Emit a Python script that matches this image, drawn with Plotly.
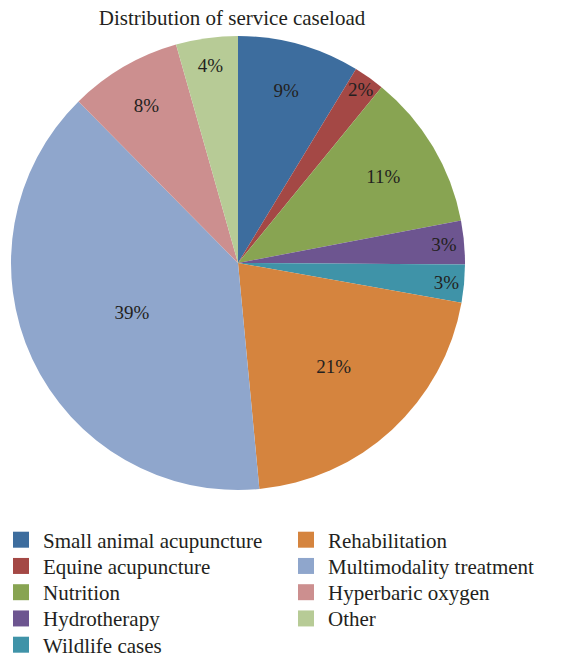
import plotly.graph_objects as go

title = "Distribution of service caseload"
labels = ["Small animal acupuncture", "Equine acupuncture", "Nutrition", "Hydrotherapy",
          "Wildlife cases", "Rehabilitation", "Multimodality treatment", "Hyperbaric oxygen", "Other"]
values = [8.7, 2.2, 11.1, 3.1, 2.7, 20.7, 39.1, 8.0, 4.4]
colors = ["#3D6D9E", "#A44845", "#88A452", "#6D5590", "#3F93A8",
          "#D5843E", "#8FA6CC", "#CC8F8F", "#B7CB96"]

W, H = 566, 659
FONT = "Liberation Serif, Times New Roman, serif"
TXT = "#231f20"

fig = go.Figure()
fig.add_trace(go.Pie(
    labels=labels, values=values, sort=False, direction="clockwise", rotation=0,
    marker=dict(colors=colors, line=dict(width=0)),
    texttemplate="%{percent:.0%}", textposition="inside", insidetextorientation="horizontal",
    textfont=dict(family=FONT, size=19, color=TXT),
    showlegend=False, hoverinfo="label+percent",
    domain=dict(x=[11 / W, 465 / W], y=[1 - 490 / H, 1 - 36 / H]),
))

# Legend drawn in two columns (column-major order as in the reference)
shapes, annotations = [], []
row_y0, row_dy, sw = 539.7, 26.25, 16
for i, (lab, col) in enumerate(zip(labels, colors)):
    c, r = divmod(i, 5)
    sx = 13 if c == 0 else 298
    tx = 41 if c == 0 else 326
    cy = row_y0 + r * row_dy
    shapes.append(dict(type="rect", xref="paper", yref="paper",
                       x0=sx / W, x1=(sx + sw) / W,
                       y0=1 - (cy + sw / 2) / H, y1=1 - (cy - sw / 2) / H,
                       fillcolor=col, line=dict(width=0)))
    annotations.append(dict(text=lab, xref="paper", yref="paper", x=tx / W, y=1 - (cy + 1) / H,
                            xanchor="left", yanchor="middle", showarrow=False,
                            font=dict(family=FONT, size=21, color=TXT)))

fig.update_layout(
    width=W, height=H,
    margin=dict(l=0, r=0, t=0, b=0, autoexpand=False),
    paper_bgcolor="white", plot_bgcolor="white",
    title=dict(text=title, x=232 / W, xanchor="center", y=1 - 18 / H, yanchor="middle",
               font=dict(family=FONT, size=21, color=TXT)),
    uniformtext=dict(minsize=19, mode="show"),
    shapes=shapes, annotations=annotations,
)

fig.write_html("out.html", config={"displayModeBar": False},
               post_script="document.body.style.margin='0';document.body.style.overflow='hidden';")
